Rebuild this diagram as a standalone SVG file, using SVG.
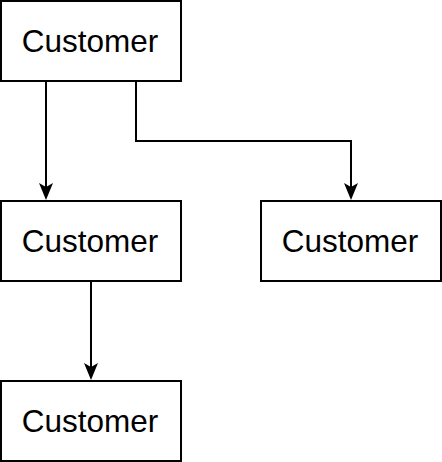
<svg xmlns="http://www.w3.org/2000/svg" width="442" height="462" viewBox="0 0 442 462">
<style>
.box{fill:#fff;stroke:#000;stroke-width:2}
.lbl{font-family:"Liberation Sans",Arial,Helvetica,sans-serif;font-size:31.5px;fill:#000;text-anchor:middle}
.edge{fill:none;stroke:#000;stroke-width:2}
</style>
<defs>
<marker id="arr" markerUnits="userSpaceOnUse" markerWidth="20" markerHeight="20" viewBox="0 0 20 20" refX="8" refY="10" orient="auto">
<path d="M1,3 L18,10 L1,17 L5,10 Z" fill="#000"/>
</marker>
</defs>
<rect width="442" height="462" fill="#fff"/>
<g id="connectors">
<path class="edge" d="M46,81 V190" marker-end="url(#arr)"/>
<path class="edge" d="M136,81 V141 H351 V190" marker-end="url(#arr)"/>
<path class="edge" d="M91,281 V370" marker-end="url(#arr)"/>
</g>
<g id="node1"><rect class="box" x="1" y="1" width="180" height="80"/><text class="lbl" x="90" y="52">Customer</text></g>
<g id="node2"><rect class="box" x="1" y="201" width="180" height="80"/><text class="lbl" x="90" y="252">Customer</text></g>
<g id="node3"><rect class="box" x="261" y="201" width="180" height="80"/><text class="lbl" x="350" y="252">Customer</text></g>
<g id="node4"><rect class="box" x="1" y="381" width="180" height="80"/><text class="lbl" x="90" y="432">Customer</text></g>
</svg>
